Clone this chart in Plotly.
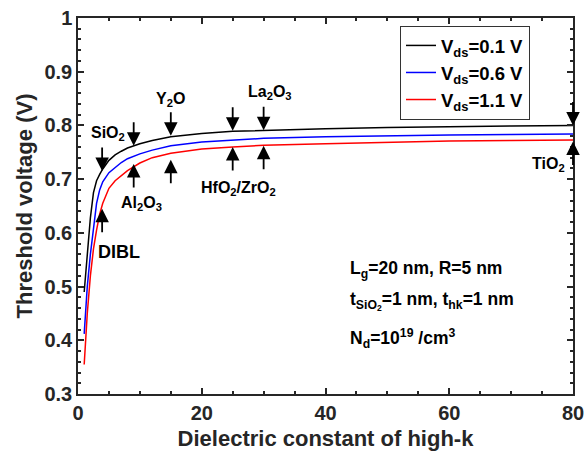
import plotly.graph_objects as go

# ---- data ----
k_values = [1, 1.5, 2, 2.5, 3, 3.5, 4, 5, 6, 7, 8, 10, 12, 15, 20, 25, 30, 40, 50, 60, 70, 80]
vth_vds_01 = [0.490, 0.565, 0.628, 0.675, 0.697, 0.709, 0.719, 0.735, 0.745, 0.752, 0.758, 0.766,
              0.772, 0.779, 0.785, 0.789, 0.791, 0.794, 0.796, 0.798, 0.799, 0.800]
vth_vds_06 = [0.412, 0.500, 0.560, 0.612, 0.655, 0.680, 0.695, 0.712, 0.722, 0.731, 0.738, 0.747,
              0.754, 0.762, 0.769, 0.773, 0.776, 0.779, 0.781, 0.782, 0.783, 0.784]
vth_vds_11 = [0.355, 0.450, 0.520, 0.570, 0.605, 0.635, 0.655, 0.683, 0.697, 0.707, 0.716, 0.730,
              0.740, 0.748, 0.756, 0.760, 0.763, 0.766, 0.769, 0.771, 0.772, 0.773]
series_names = ["V<sub>ds</sub>=0.1 V", "V<sub>ds</sub>=0.6 V", "V<sub>ds</sub>=1.1 V"]
series_colors = ["#000000", "#0000FF", "#FF0000"]

# dielectric markers (arrows)
arrow_k = [3.9, 9, 15, 25, 30, 80]
down_tip_v = [0.715, 0.762, 0.781, 0.790, 0.791, 0.800]
up_tip_v = [0.645, 0.728, 0.736, 0.760, 0.762, 0.770]

# labels: text, k, v
label_text = ["SiO<sub>2</sub>", "Al<sub>2</sub>O<sub>3</sub>", "Y<sub>2</sub>O", "La<sub>2</sub>O<sub>3</sub>",
              "HfO<sub>2</sub>/ZrO<sub>2</sub>", "TiO<sub>2</sub>"]
label_k = [4.8, 10.3, 14.9, 31.0, 25.9, 76.1]
label_v = [0.785, 0.654, 0.849, 0.861, 0.682, 0.728]

x_ticks = [0, 20, 40, 60, 80]
y_ticks = [0.3, 0.4, 0.5, 0.6, 0.7, 0.8, 0.9, 1.0]
y_ticklabels = ["0.3", "0.4", "0.5", "0.6", "0.7", "0.8", "0.9", "1"]

FONT = "Liberation Sans"

fig = go.Figure()
for name, col, vals in zip(series_names, series_colors, [vth_vds_01, vth_vds_06, vth_vds_11]):
    fig.add_trace(go.Scatter(x=k_values, y=vals, mode="lines", name=name,
                             line=dict(color=col, width=1.5)))

ann = []
for k, v in zip(arrow_k, down_tip_v):
    ann.append(dict(x=k, y=v, xref="x", yref="y", ax=0, ay=-25, text="", showarrow=True,
                    arrowhead=2, arrowsize=1.5, arrowwidth=1.8, arrowcolor="black"))
for k, v in zip(arrow_k, up_tip_v):
    ann.append(dict(x=k, y=v, xref="x", yref="y", ax=0, ay=25, text="", showarrow=True,
                    arrowhead=2, arrowsize=1.5, arrowwidth=1.8, arrowcolor="black"))
for t, k, v in zip(label_text, label_k, label_v):
    ann.append(dict(x=k, y=v, xref="x", yref="y", text=t, showarrow=False,
                    font=dict(size=16, color="black", family=FONT, weight="bold")))
ann.append(dict(x=6.6, y=0.565, xref="x", yref="y", text="DIBL", showarrow=False,
                font=dict(size=18, color="black", family=FONT, weight="bold")))

info_lines = ["L<sub>g</sub>=20 nm, R=5 nm",
              "t<sub>SiO<sub>2</sub></sub>=1 nm, t<sub>hk</sub>=1 nm",
              "N<sub>d</sub>=10<sup>19</sup> /cm<sup>3</sup>"]
info_v = [0.531, 0.474, 0.403]
for t, v in zip(info_lines, info_v):
    ann.append(dict(x=43.6, y=v, xref="x", yref="y", text=t, showarrow=False, xanchor="left",
                    font=dict(size=17.5, color="black", family=FONT, weight="bold")))

axis_common = dict(showline=True, linecolor="#262626", linewidth=1.5, mirror="allticks",
                   ticks="inside", ticklen=6, tickwidth=1.5, tickcolor="#262626",
                   showgrid=False, zeroline=False, automargin=False,
                   tickfont=dict(size=20, color="#262626", family=FONT, weight="bold"))

fig.update_layout(
    width=588, height=460,
    margin=dict(l=78, r=15, t=18, b=66),
    plot_bgcolor="white", paper_bgcolor="white",
    font=dict(family=FONT, color="#262626"),
    annotations=ann,
    showlegend=True,
    legend=dict(x=0.6505, y=0.979, xanchor="left", yanchor="top",
                bgcolor="white", bordercolor="#333333", borderwidth=1, tracegroupgap=0,
                font=dict(size=18.5, color="black", family=FONT, weight="bold")),
    xaxis=dict(range=[0, 80], tickvals=x_ticks,
               minor=dict(dtick=5, ticklen=3, tickwidth=1.5, tickcolor="#262626", ticks="inside"),
               title=dict(text="Dielectric constant of high-k", standoff=8,
                          font=dict(size=22, color="#262626", family=FONT, weight="bold")),
               **axis_common),
    yaxis=dict(range=[0.3, 1.0], tickvals=y_ticks, ticktext=y_ticklabels,
               minor=dict(dtick=0.02, ticklen=3, tickwidth=1.5, tickcolor="#262626", ticks="inside"),
               title=dict(text="Threshold voltage (V)", standoff=6,
                          font=dict(size=22, color="#262626", family=FONT, weight="bold")),
               **axis_common),
)

fig.write_html("out.html", config={"displayModeBar": False},
               post_script="document.body.style.margin='0';")
